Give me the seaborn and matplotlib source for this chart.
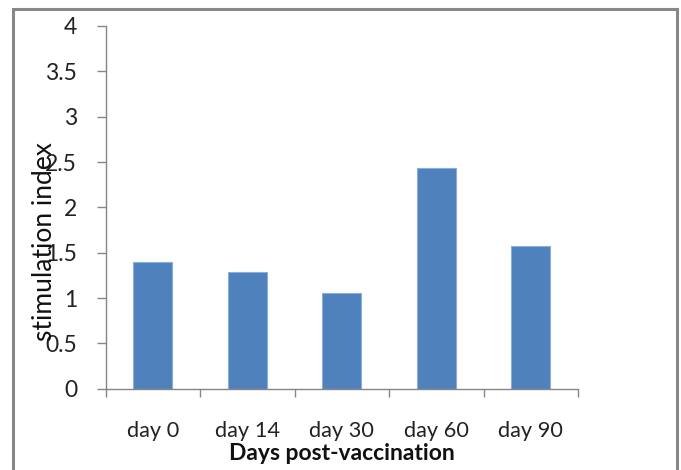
import matplotlib
matplotlib.use("Agg")
import matplotlib.pyplot as plt
from matplotlib.patches import Rectangle
import seaborn as sns
import pandas as pd

days = ["day 0", "day 14", "day 30", "day 60", "day 90"]
stimulation = [1.40, 1.29, 1.06, 2.43, 1.57]
y_ticks = [0, 0.5, 1, 1.5, 2, 2.5, 3, 3.5, 4]
y_tick_labels = ["0", "0.5", "1", "1.5", "2", "2.5", "3", "3.5", "4"]

sns.set_theme(style="white")
plt.rcParams["font.family"] = ["Lato", "DejaVu Sans"]

df = pd.DataFrame({"day": days, "si": stimulation})

fig = plt.figure(figsize=(6.81, 4.70), dpi=100)
ax = fig.add_axes([105.5 / 681, 1 - 388.7 / 470, (578 - 105.5) / 681, (388.7 - 26) / 470])

sns.barplot(data=df, x="day", y="si", color="#4F81BD", saturation=1,
            width=0.41, edgecolor="#8AADDB", linewidth=0.8, ax=ax)

grey = "#868686"
ax.set_xlim(-0.5, 4.5)
ax.set_ylim(0, 4)
ax.set_yticks(y_ticks)
ax.set_yticklabels(y_tick_labels)

# category boundaries carry the tick marks, labels sit between them
ax.set_xticks([i - 0.5 for i in range(len(days) + 1)])
ax.set_xticklabels([])
ax.set_xticks(range(len(days)), minor=True)
ax.set_xticklabels(days, minor=True)

ax.tick_params(axis="y", which="major", direction="out", length=6.5, width=1,
               color=grey, pad=14, labelsize=16.5, labelcolor="#222222", left=True)
ax.tick_params(axis="x", which="major", direction="out", length=6, width=1,
               color=grey, bottom=True)
ax.tick_params(axis="x", which="minor", length=0, pad=23, labelsize=15.7,
               labelcolor="#222222", bottom=True)

for side in ["top", "right"]:
    ax.spines[side].set_visible(False)
for side in ["left", "bottom"]:
    ax.spines[side].set_color(grey)
    ax.spines[side].set_linewidth(1)

ax.set_xlabel("")
ax.set_ylabel("")

fig.text(341.5 / 681, 1 - 454 / 470, "Days post-vaccination", ha="center", va="center",
         fontsize=16.5, fontweight="bold", color="#111111")
fig.text(45 / 681, 1 - 242 / 470, "stimulation index", ha="center", va="center",
         rotation=90, fontsize=19, color="#111111")

# chart frame
fig.patches.append(Rectangle((12.5 / 681, -0.05), (676.5 - 12.5) / 681, 1 - 9 / 470 + 0.05,
                             transform=fig.transFigure, fill=False,
                             edgecolor="#888888", linewidth=2.2, zorder=10))

fig.savefig("out.png", dpi=100)
